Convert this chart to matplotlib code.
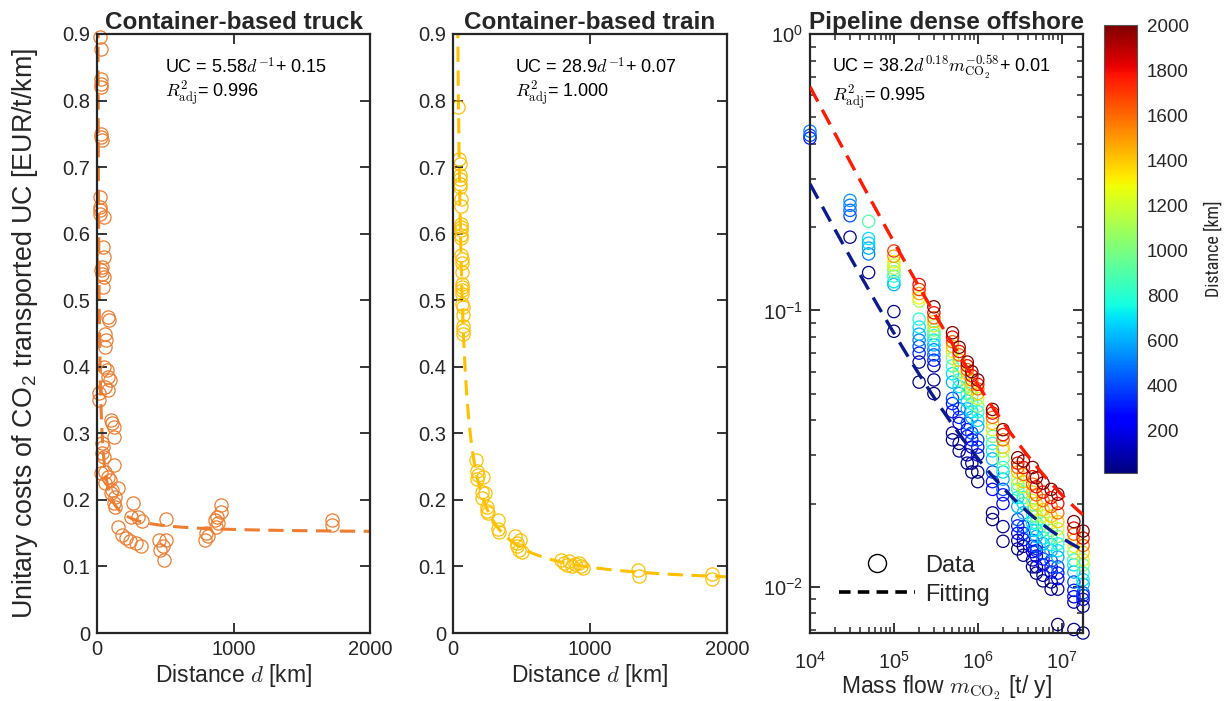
import numpy as np
import matplotlib
matplotlib.use('Agg')
import matplotlib.pyplot as plt
from matplotlib.colors import Normalize
from matplotlib.cm import ScalarMappable
from matplotlib.lines import Line2D
from matplotlib.ticker import LogLocator, NullFormatter, MultipleLocator
from matplotlib import font_manager

# ---------------- data ----------------
truck_d = [25, 30, 30, 28, 32, 30, 32, 34, 22, 22, 25, 20, 48, 42, 48, 36, 32, 38, 48, 42,
           80, 86, 62, 68, 60, 52, 72, 84, 92, 62, 84, 12, 16, 104, 112, 122, 126, 40, 46, 40,
           54, 126, 32, 62, 82, 92, 62, 112, 104, 152, 134, 122, 134, 262, 252, 302, 332, 152, 182, 210,
           242, 282, 322, 455, 505, 505, 462, 490, 482, 800, 792, 815, 882, 905, 905, 872, 885, 862, 1722, 1722]
truck_uc = [0.895, 0.878, 0.832, 0.825, 0.820, 0.750, 0.745, 0.740, 0.655, 0.640, 0.635, 0.630, 0.625, 0.580, 0.565, 0.550, 0.545, 0.540, 0.535, 0.520,
            0.475, 0.470, 0.450, 0.440, 0.430, 0.400, 0.395, 0.385, 0.380, 0.370, 0.365, 0.360, 0.350, 0.320, 0.315, 0.310, 0.295, 0.285, 0.280, 0.270,
            0.265, 0.253, 0.240, 0.242, 0.235, 0.230, 0.225, 0.215, 0.210, 0.218, 0.205, 0.195, 0.190, 0.196, 0.175, 0.175, 0.168, 0.160, 0.148, 0.143,
            0.138, 0.135, 0.130, 0.140, 0.172, 0.140, 0.125, 0.110, 0.130, 0.150, 0.140, 0.145, 0.175, 0.192, 0.182, 0.160, 0.165, 0.170, 0.170, 0.163]
truck_fit = [5.58, 0.15]

train_d = [40, 45, 48, 50, 50, 52, 52, 55, 55, 57, 57, 58, 58, 60, 60, 62, 62, 64, 64, 66, 66, 68, 68, 70, 72, 74, 75, 76,
           170, 175, 180, 175, 220, 215, 235, 210, 245, 250, 255, 330, 330, 335, 450, 470, 470, 490, 480, 500,
           790, 810, 830, 850, 870, 890, 920, 935, 950, 1350, 1360, 1890, 1890]
train_uc = [0.790, 0.712, 0.705, 0.688, 0.682, 0.675, 0.670, 0.652, 0.642, 0.615, 0.610, 0.605, 0.598, 0.593, 0.568, 0.562, 0.556, 0.543, 0.525, 0.520, 0.515, 0.510, 0.495, 0.490, 0.478, 0.462, 0.455, 0.450,
            0.260, 0.243, 0.238, 0.232, 0.235, 0.212, 0.210, 0.203, 0.190, 0.184, 0.180, 0.170, 0.157, 0.152, 0.145, 0.135, 0.130, 0.140, 0.125, 0.122,
            0.110, 0.105, 0.102, 0.108, 0.100, 0.104, 0.105, 0.100, 0.098, 0.095, 0.086, 0.088, 0.081]
train_fit = [28.9, 0.07]

pipe_m = [1e4, 3e4, 5e4, 1e5, 2e5, 3e5, 5e5, 6e5, 7.5e5, 8.5e5, 1e6, 1.5e6, 2e6, 3e6, 3.5e6,
          4.5e6, 5e6, 6e6, 7.5e6, 9e6, 1.4e7, 1.8e7]
pipe_levels = [10, 50, 200, 300, 400, 600, 700, 800, 1000, 1200, 1400, 1600, 1800, 2000]
pipe_d = [[300, 400, 500],
          [50, 400, 450, 500, 550],
          [50, 500, 600, 650, 700, 900],
          [20, 50, 600, 700, 800, 1000, 1100, 1200, 1300, 1500, 1700],
          [20, 50, 300, 400, 500, 600, 700, 800, 1100, 1300, 1500, 1700, 1800],
          [10, 30, 60, 300, 400, 500, 600, 700, 800, 900, 1000, 1200, 1400, 1600, 1800, 2000]] + [pipe_levels] * 16
pipe_uc = [[0.420, 0.430, 0.445],
           [0.184, 0.220, 0.230, 0.240, 0.250],
           [0.137, 0.160, 0.168, 0.175, 0.182, 0.210],
           [0.084, 0.099, 0.124, 0.127, 0.133, 0.138, 0.142, 0.146, 0.150, 0.157, 0.164],
           [0.055, 0.065, 0.070, 0.074, 0.078, 0.082, 0.087, 0.093, 0.108, 0.111, 0.115, 0.119, 0.124],
           [0.050, 0.056, 0.063, 0.066, 0.069, 0.072, 0.075, 0.078, 0.081, 0.083, 0.085, 0.088, 0.091, 0.094, 0.098, 0.103],
           [0.034, 0.036, 0.043, 0.046, 0.048, 0.055, 0.059, 0.063, 0.067, 0.071, 0.074, 0.077, 0.080, 0.083],
           [0.031, 0.033, 0.039, 0.041, 0.044, 0.050, 0.053, 0.056, 0.060, 0.063, 0.066, 0.069, 0.071, 0.0735],
           [0.028, 0.030, 0.035, 0.037, 0.039, 0.044, 0.047, 0.050, 0.053, 0.056, 0.059, 0.061, 0.063, 0.065],
           [0.026, 0.028, 0.032, 0.034, 0.036, 0.041, 0.043, 0.046, 0.049, 0.052, 0.054, 0.056, 0.058, 0.060],
           [0.024, 0.026, 0.030, 0.032, 0.034, 0.038, 0.040, 0.043, 0.045, 0.048, 0.050, 0.052, 0.054, 0.056],
           [0.0175, 0.0185, 0.0225, 0.024, 0.026, 0.029, 0.031, 0.033, 0.035, 0.037, 0.039, 0.041, 0.0425, 0.0438],
           [0.0146, 0.0165, 0.020, 0.0215, 0.0225, 0.0245, 0.026, 0.027, 0.029, 0.031, 0.032, 0.034, 0.0355, 0.037],
           [0.0137, 0.0147, 0.0156, 0.0166, 0.0175, 0.0195, 0.021, 0.0225, 0.0235, 0.0245, 0.026, 0.027, 0.028, 0.0293],
           [0.013, 0.014, 0.0148, 0.0156, 0.0165, 0.0185, 0.020, 0.021, 0.022, 0.023, 0.024, 0.0255, 0.027, 0.0285],
           [0.0118, 0.0125, 0.0134, 0.014, 0.0147, 0.016, 0.017, 0.018, 0.019, 0.0205, 0.022, 0.0235, 0.025, 0.027],
           [0.0112, 0.0118, 0.0129, 0.0135, 0.014, 0.0152, 0.016, 0.017, 0.018, 0.019, 0.020, 0.0215, 0.023, 0.0248],
           [0.0105, 0.011, 0.012, 0.0126, 0.0132, 0.0143, 0.015, 0.016, 0.017, 0.018, 0.019, 0.0205, 0.022, 0.0237],
           [0.0098, 0.0104, 0.0113, 0.0118, 0.0124, 0.0135, 0.0142, 0.015, 0.016, 0.017, 0.018, 0.0195, 0.021, 0.0225],
           [0.0073, 0.0098, 0.0107, 0.0112, 0.0118, 0.0128, 0.0135, 0.0143, 0.0152, 0.0162, 0.0172, 0.0185, 0.020, 0.0216],
           [0.0070, 0.0088, 0.0092, 0.0097, 0.0104, 0.0113, 0.0120, 0.0125, 0.0133, 0.0140, 0.0147, 0.0155, 0.0163, 0.0172],
           [0.0068, 0.0085, 0.0090, 0.0093, 0.0095, 0.0102, 0.0106, 0.0112, 0.0120, 0.0125, 0.0133, 0.0141, 0.0150, 0.0159]]
pipe_fit = [38.2, 0.18, -0.58, 0.01]
pipe_fit_d = [10, 1000]
pipe_fit_colors = ['#0B1A8C', '#FF1A00']

titles = ['Container-based truck', 'Container-based train', 'Pipeline dense offshore']
cbar_ticks = [200, 400, 600, 800, 1000, 1200, 1400, 1600, 1800, 2000]

# ---------------- style ----------------
plt.rcParams['font.family'] = ['Liberation Sans', 'DejaVu Sans']
plt.rcParams['mathtext.fontset'] = 'cm'
plt.rcParams['xtick.direction'] = 'in'
plt.rcParams['ytick.direction'] = 'in'
plt.rcParams['xtick.top'] = True
plt.rcParams['ytick.right'] = True
plt.rcParams['xtick.major.size'] = 7
plt.rcParams['ytick.major.size'] = 7
plt.rcParams['xtick.minor.size'] = 4
plt.rcParams['ytick.minor.size'] = 4
plt.rcParams['xtick.major.width'] = 1.3
plt.rcParams['ytick.major.width'] = 1.3
plt.rcParams['xtick.minor.width'] = 1.1
plt.rcParams['ytick.minor.width'] = 1.1
plt.rcParams['axes.linewidth'] = 1.6
DARK = '#262626'
plt.rcParams['axes.edgecolor'] = DARK
plt.rcParams['xtick.color'] = DARK
plt.rcParams['ytick.color'] = DARK
plt.rcParams['text.color'] = DARK
plt.rcParams['axes.labelcolor'] = DARK

TICK_FS = 14.5
XLABEL_FS = 16.5
YLABEL_FS = 19.3
TITLE_FS = 17.5
ANN_FS = 13

# narrow font for colorbar label if available
installed = {f.name for f in font_manager.fontManager.ttflist}
narrow = [n for n in ['Liberation Sans Narrow', 'DejaVu Sans Condensed', 'Roboto Condensed', 'Open Sans Condensed'] if n in installed]
cb_family = narrow[:1] + ['Liberation Sans']
cb_fs = 13 if narrow else 11

fig = plt.figure(figsize=(12.31, 7.01), dpi=100)
ax1 = fig.add_axes([0.0788, 0.097, 0.2218, 0.8545])
ax2 = fig.add_axes([0.368, 0.097, 0.2226, 0.8545])
ax3 = fig.add_axes([0.658, 0.097, 0.2218, 0.8545])
cax = fig.add_axes([0.897, 0.325, 0.0268, 0.639])

def style_linear(ax):
    ax.set_xlim(0, 2000)
    ax.set_ylim(0, 0.9)
    ax.xaxis.set_major_locator(MultipleLocator(1000))
    ax.set_yticks(np.arange(0, 0.91, 0.1))
    ax.set_yticklabels([('0' if i == 0 else f'{i/10:.1f}') for i in range(10)])
    ax.tick_params(labelsize=TICK_FS, pad=5)
    ax.set_xlabel(r'Distance $d$ [km]', fontsize=XLABEL_FS, labelpad=2)

def dashed(ax, x, y, color, lw=2.2):
    ln, = ax.plot(x, y, color=color, lw=lw, ls='--', zorder=1)
    ln.set_dashes([5.0, 2.8])
    return ln

# truck
c_truck = '#ED7D31'
dfit = np.geomspace(1, 2000, 800)
dashed(ax1, dfit, truck_fit[0] / dfit + truck_fit[1], c_truck)
ax1.plot(truck_d, truck_uc, ls='none', marker='o', ms=9.5, mfc='none', mec=c_truck, mew=0.9, zorder=2, clip_on=False)
style_linear(ax1)
ax1.set_ylabel(r'Unitary costs of CO$_{\mathregular{2}}$ transported UC [EUR/t/km]', fontsize=YLABEL_FS)
ax1.yaxis.set_label_coords(-0.21, 0.5)
ax1.set_title(titles[0], fontsize=TITLE_FS, fontweight='bold', pad=3)
ax1.text(0.25, 0.944, r'UC = 5.58$d^{-1}$+ 0.15', transform=ax1.transAxes, fontsize=ANN_FS, va='center', color='k')
ax1.text(0.25, 0.899, r'$R^2_{\mathrm{adj}}$= 0.996', transform=ax1.transAxes, fontsize=ANN_FS, va='center', color='k')

# train
c_train = '#FFC000'
dashed(ax2, dfit, train_fit[0] / dfit + train_fit[1], c_train)
ax2.plot(train_d, train_uc, ls='none', marker='o', ms=9.5, mfc='none', mec=c_train, mew=0.9, zorder=2)
style_linear(ax2)
ax2.set_title(titles[1], fontsize=TITLE_FS, fontweight='bold', pad=3)
ax2.text(0.226, 0.944, r'UC = 28.9$d^{-1}$+ 0.07', transform=ax2.transAxes, fontsize=ANN_FS, va='center', color='k')
ax2.text(0.226, 0.899, r'$R^2_{\mathrm{adj}}$= 1.000', transform=ax2.transAxes, fontsize=ANN_FS, va='center', color='k')

# pipeline
cmap = plt.get_cmap('jet')
norm = Normalize(vmin=10, vmax=2000)
for m, ds, ucs in zip(pipe_m, pipe_d, pipe_uc):
    cols = cmap(norm(np.array(ds, dtype=float)))
    ax3.scatter(np.full(len(ds), m), ucs, s=78, facecolors='none', edgecolors=cols, linewidths=0.9, zorder=2, clip_on=False)
mfit = np.geomspace(1e4, 1.8e7, 300)
for dval, col in zip(pipe_fit_d, pipe_fit_colors):
    ln = dashed(ax3, mfit, pipe_fit[0] * dval ** pipe_fit[1] * mfit ** pipe_fit[2] + pipe_fit[3], col, lw=2.4)
    ln.set_zorder(3)
ax3.set_xscale('log')
ax3.set_yscale('log')
ax3.set_xlim(1e4, 1.8e7)
ax3.set_ylim(0.0068, 1.0)
ax3.xaxis.set_major_locator(LogLocator(base=10, numticks=10))
ax3.xaxis.set_minor_locator(LogLocator(base=10, subs=np.arange(2, 10), numticks=20))
ax3.xaxis.set_minor_formatter(NullFormatter())
ax3.yaxis.set_major_locator(LogLocator(base=10, numticks=10))
ax3.yaxis.set_minor_locator(LogLocator(base=10, subs=np.arange(2, 10), numticks=20))
ax3.yaxis.set_minor_formatter(NullFormatter())
ax3.tick_params(labelsize=TICK_FS, pad=5)
ax3.tick_params(axis='x', which='major', pad=13)
ax3.set_xlabel(r'Mass flow $m_{\mathrm{CO}_2}$ [t/ y]', fontsize=XLABEL_FS, labelpad=0)
ax3.set_title(titles[2], fontsize=TITLE_FS, fontweight='bold', pad=3)
ax3.text(0.08, 0.944, r'UC = 38.2$d^{0.18}m_{\mathrm{CO}_2}^{-0.58}$+ 0.01', transform=ax3.transAxes, fontsize=ANN_FS, va='center', color='k')
ax3.text(0.08, 0.893, r'$R^2_{\mathrm{adj}}$= 0.995', transform=ax3.transAxes, fontsize=ANN_FS, va='center', color='k')
handles = [Line2D([], [], ls='none', marker='o', ms=13, mfc='none', mec='k', mew=1.0),
           Line2D([], [], color='k', ls='--', lw=2.6, dashes=[3.2, 2.0])]
ax3.legend(handles, ['Data', 'Fitting'], loc='lower left', bbox_to_anchor=(0.055, 0.022), frameon=False,
           fontsize=17, handlelength=3.2, handletextpad=0.45, labelspacing=0.3, borderaxespad=0.2)

# colorbar
cb = fig.colorbar(ScalarMappable(norm=norm, cmap=cmap), cax=cax)
cb.set_ticks(cbar_ticks)
cb.ax.tick_params(labelsize=13.5, length=0, pad=7, direction='out')
cb.outline.set_edgecolor('#555555')
cb.outline.set_linewidth(0.8)
cb.set_label('Distance [km]', fontsize=cb_fs, labelpad=11, family=cb_family)

fig.savefig('out.png', dpi=100)
